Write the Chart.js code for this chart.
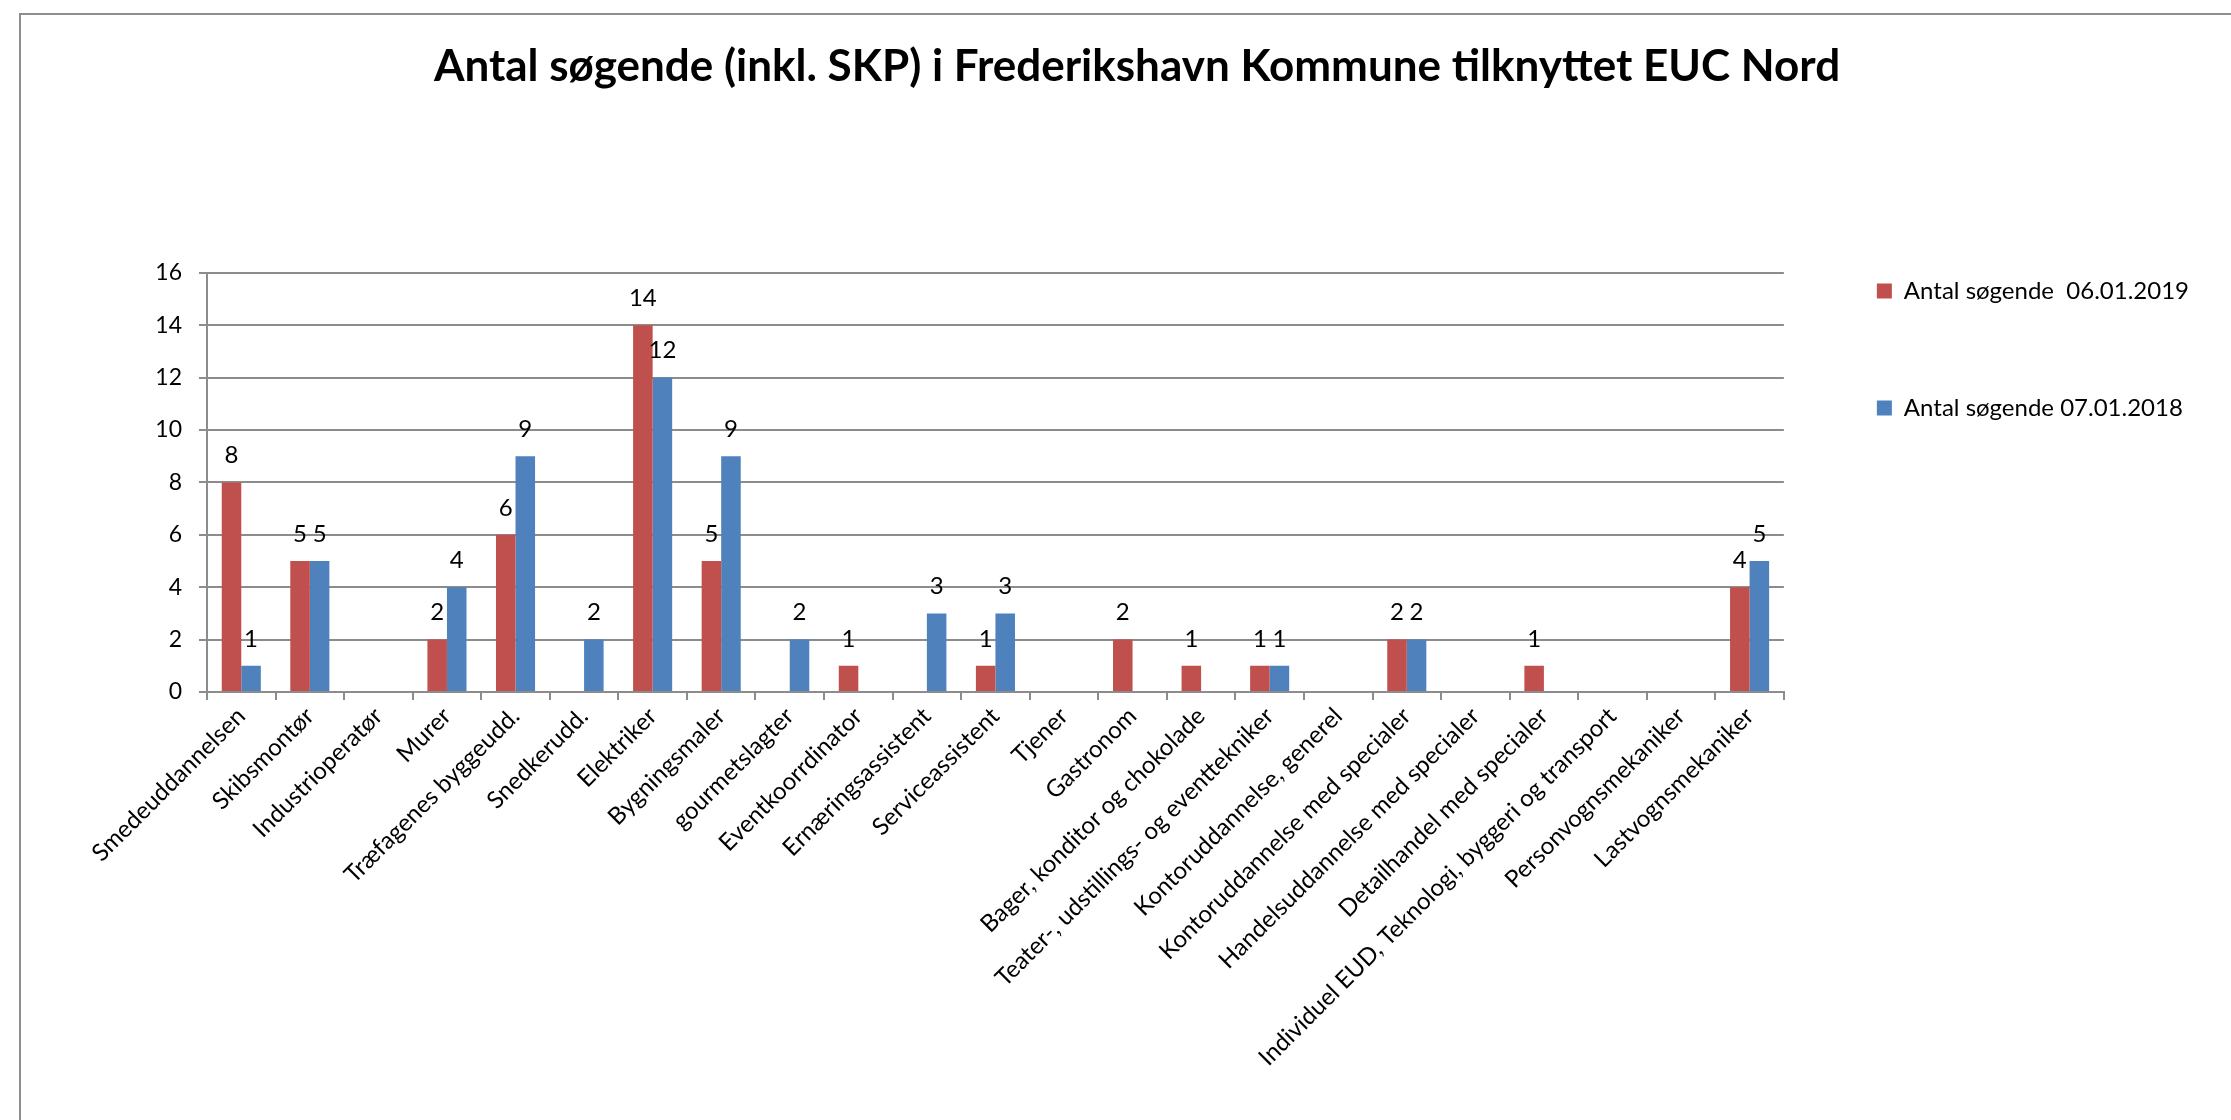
<!DOCTYPE html>
<html lang="da">
<head>
    <meta charset="UTF-8">
    <title>Antal søgende - EUC Nord</title>
    <script src="https://cdn.jsdelivr.net/npm/chart.js"></script>
    <style>
        body {
            margin: 0;
            background: #ffffff;
            overflow: hidden;
        }
        .frame {
            position: absolute;
            left: 19px;
            top: 13px;
            width: 3000px;
            height: 3000px;
            border-left: 2px solid #8e8e8e;
            border-top: 2px solid #8e8e8e;
        }
        .chart-container {
            position: absolute;
            left: 0;
            top: 0;
            width: 2231px;
            height: 1120px;
        }
    </style>
</head>
<body>
    <div class="frame"></div>
    <div class="chart-container">
        <canvas id="searchChart"></canvas>
    </div>

    <script>
        // categories (uddannelser)
        const categories = [
            'Smedeuddannelsen',
            'Skibsmontør',
            'Industrioperatør',
            'Murer',
            'Træfagenes byggeudd.',
            'Snedkerudd.',
            'Elektriker',
            'Bygningsmaler',
            'gourmetslagter',
            'Eventkoorrdinator',
            'Ernæringsassistent',
            'Serviceassistent',
            'Tjener',
            'Gastronom',
            'Bager, konditor og chokolade',
            'Teater-, udstillings- og eventtekniker',
            'Kontoruddannelse, generel',
            'Kontoruddannelse med specialer',
            'Handelsuddannelse med specialer',
            'Detailhandel med specialer',
            'Individuel EUD, Teknologi, byggeri og transport',
            'Personvognsmekaniker',
            'Lastvognsmekaniker'
        ];

        // series values (null = no bar)
        const soegende2019 = [8, 5, null, 2, 6, null, 14, 5, null, 1, null, 1, null, 2, 1, 1, null, 2, null, 1, null, null, 4];
        const soegende2018 = [1, 5, null, 4, 9, 2, 12, 9, 2, null, 3, 3, null, null, null, 1, null, 2, null, null, null, null, 5];

        const seriesNames = ['Antal søgende  06.01.2019', 'Antal søgende 07.01.2018'];
        const yTicks = [0, 2, 4, 6, 8, 10, 12, 14, 16];

        const gridColor = '#8c8c8c';
        const fontFamily = 'Lato, "Open Sans", sans-serif';

        // draws the value above each bar
        const valueLabels = {
            id: 'valueLabels',
            afterDatasetsDraw(chart) {
                const ctx = chart.ctx;
                ctx.save();
                ctx.font = '24px ' + fontFamily;
                ctx.fillStyle = '#000000';
                ctx.textAlign = 'center';
                ctx.textBaseline = 'middle';
                chart.data.datasets.forEach((ds, i) => {
                    chart.getDatasetMeta(i).data.forEach((bar, j) => {
                        const v = ds.data[j];
                        if (v === null || v === undefined) return;
                        ctx.fillText(String(v), bar.x, bar.y - 27);
                    });
                });
                ctx.restore();
            }
        };

        const padLeft = 75;
        const padRight = 32;

        const ctx = document.getElementById('searchChart').getContext('2d');
        new Chart(ctx, {
            type: 'bar',
            data: {
                labels: categories,
                datasets: [{
                    label: seriesNames[0],
                    data: soegende2019,
                    backgroundColor: '#C0504D',
                    borderWidth: 0
                }, {
                    label: seriesNames[1],
                    data: soegende2018,
                    backgroundColor: '#4F81BD',
                    borderWidth: 0
                }]
            },
            options: {
                responsive: true,
                maintainAspectRatio: false,
                animation: false,
                layout: {
                    padding: { left: padLeft, right: padRight, top: 0, bottom: 0 }
                },
                datasets: {
                    bar: {
                        categoryPercentage: 0.57,
                        barPercentage: 1
                    }
                },
                scales: {
                    x: {
                        offset: true,
                        grid: {
                            display: true,
                            drawOnChartArea: false,
                            drawTicks: true,
                            tickLength: 8,
                            color: gridColor,
                            lineWidth: 2
                        },
                        border: { display: true, color: gridColor, width: 2 },
                        ticks: {
                            autoSkip: false,
                            maxRotation: 45,
                            minRotation: 45,
                            padding: 2,
                            color: '#000000',
                            font: { family: fontFamily, size: 24 }
                        },
                        afterFit(scale) {
                            scale.height = 428;
                        }
                    },
                    y: {
                        min: 0,
                        max: 16,
                        afterBuildTicks(scale) {
                            scale.ticks = yTicks.map(v => ({ value: v }));
                        },
                        grid: {
                            color: gridColor,
                            lineWidth: 2,
                            drawTicks: true,
                            tickLength: 8
                        },
                        border: { display: true, color: gridColor, width: 2 },
                        ticks: {
                            padding: 17,
                            color: '#000000',
                            font: { family: fontFamily, size: 23 }
                        },
                        afterFit(scale) {
                            scale.width = 207 - padLeft;
                        }
                    }
                },
                plugins: {
                    title: {
                        display: true,
                        text: 'Antal søgende (inkl. SKP) i Frederikshavn Kommune tilknyttet EUC Nord',
                        color: '#000000',
                        font: { family: fontFamily, size: 44, weight: 'bold', lineHeight: 1.2 },
                        padding: { top: 40, bottom: 180 }
                    },
                    legend: {
                        position: 'right',
                        align: 'start',
                        title: {
                            display: true,
                            text: ' ',
                            font: { size: 10, lineHeight: 1 },
                            padding: { top: 0, bottom: 176 }
                        },
                        labels: {
                            boxWidth: 15,
                            boxHeight: 15,
                            padding: 93,
                            color: '#000000',
                            font: { family: fontFamily, size: 24 }
                        }
                    },
                    tooltip: { enabled: false }
                }
            },
            plugins: [valueLabels]
        });
    </script>
</body>
</html>
